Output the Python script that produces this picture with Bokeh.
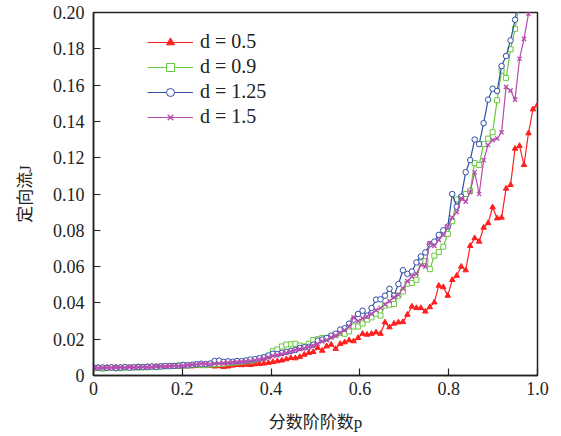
from bokeh.plotting import figure
from bokeh.models import FixedTicker, Legend, LegendItem
from bokeh.embed import file_html
from bokeh.resources import INLINE

# fractional order p (100 evenly spaced samples from 0 to 1)
p = [0.0000, 0.0101, 0.0202, 0.0303, 0.0404, 0.0505, 0.0606, 0.0707, 0.0808, 0.0909,
     0.1010, 0.1111, 0.1212, 0.1313, 0.1414, 0.1515, 0.1616, 0.1717, 0.1818, 0.1919,
     0.2020, 0.2121, 0.2222, 0.2323, 0.2424, 0.2525, 0.2626, 0.2727, 0.2828, 0.2929,
     0.3030, 0.3131, 0.3232, 0.3333, 0.3434, 0.3535, 0.3636, 0.3737, 0.3838, 0.3939,
     0.4040, 0.4141, 0.4242, 0.4343, 0.4444, 0.4545, 0.4646, 0.4747, 0.4848, 0.4949,
     0.5050, 0.5151, 0.5252, 0.5353, 0.5454, 0.5555, 0.5656, 0.5757, 0.5858, 0.5959,
     0.6060, 0.6161, 0.6262, 0.6363, 0.6464, 0.6565, 0.6666, 0.6767, 0.6868, 0.6969,
     0.7070, 0.7171, 0.7272, 0.7373, 0.7474, 0.7575, 0.7676, 0.7777, 0.7878, 0.7979,
     0.8080, 0.8181, 0.8282, 0.8383, 0.8484, 0.8585, 0.8686, 0.8787, 0.8888, 0.8989,
     0.9090, 0.9191, 0.9292, 0.9393, 0.9494, 0.9595, 0.9696, 0.9797, 0.9898, 1.0000]

J_d05 = [0.0042, 0.0043, 0.0041, 0.0044, 0.0043, 0.0045, 0.0044, 0.0046, 0.0045, 0.0046,
         0.0047, 0.0046, 0.0048, 0.0047, 0.0049, 0.0048, 0.0049, 0.0050, 0.0049, 0.0051,
         0.0050, 0.0052, 0.0051, 0.0053, 0.0052, 0.0054, 0.0053, 0.0050, 0.0052, 0.0048,
         0.0050, 0.0055, 0.0058, 0.0057, 0.0060, 0.0058, 0.0062, 0.0064, 0.0066, 0.0070,
         0.0075, 0.0079, 0.0083, 0.0090, 0.0097, 0.0095, 0.0103, 0.0115, 0.0125, 0.0130,
         0.0152, 0.0137, 0.0161, 0.0170, 0.0147, 0.0174, 0.0183, 0.0194, 0.0189, 0.0207,
         0.0230, 0.0225, 0.0230, 0.0238, 0.0230, 0.0293, 0.0266, 0.0286, 0.0293, 0.0295,
         0.0335, 0.0380, 0.0372, 0.0372, 0.0353, 0.0377, 0.0403, 0.0495, 0.0487, 0.0440,
         0.0527, 0.0550, 0.0600, 0.0580, 0.0714, 0.0757, 0.0738, 0.0815, 0.0840, 0.0927,
         0.0866, 0.0870, 0.1030, 0.1050, 0.1250, 0.1265, 0.1160, 0.1335, 0.1467, 0.1490]

J_d09 = [0.0040, 0.0042, 0.0038, 0.0041, 0.0043, 0.0042, 0.0040, 0.0044, 0.0043, 0.0045,
         0.0044, 0.0046, 0.0045, 0.0047, 0.0048, 0.0050, 0.0051, 0.0053, 0.0052, 0.0055,
         0.0056, 0.0055, 0.0058, 0.0060, 0.0059, 0.0057, 0.0060, 0.0062, 0.0063, 0.0065,
         0.0068, 0.0070, 0.0073, 0.0075, 0.0078, 0.0082, 0.0085, 0.0092, 0.0100, 0.0108,
         0.0134, 0.0143, 0.0160, 0.0170, 0.0172, 0.0175, 0.0165, 0.0160, 0.0175, 0.0195,
         0.0200, 0.0207, 0.0205, 0.0215, 0.0224, 0.0235, 0.0230, 0.0243, 0.0270, 0.0270,
         0.0286, 0.0308, 0.0320, 0.0340, 0.0330, 0.0385, 0.0390, 0.0394, 0.0440, 0.0463,
         0.0505, 0.0510, 0.0527, 0.0623, 0.0630, 0.0586, 0.0660, 0.0680, 0.0710, 0.0780,
         0.0850, 0.0970, 0.0980, 0.1000, 0.1018, 0.1170, 0.1160, 0.1275, 0.1305, 0.1340,
         0.1516, 0.1680, 0.1640, 0.1797, 0.1910, 0.2050]

J_d125 = [0.0045, 0.0043, 0.0044, 0.0042, 0.0045, 0.0040, 0.0044, 0.0046, 0.0043, 0.0045,
          0.0047, 0.0046, 0.0048, 0.0050, 0.0047, 0.0050, 0.0052, 0.0051, 0.0053, 0.0054,
          0.0058, 0.0056, 0.0060, 0.0062, 0.0065, 0.0063, 0.0066, 0.0080, 0.0082, 0.0075,
          0.0078, 0.0076, 0.0080, 0.0079, 0.0083, 0.0088, 0.0090, 0.0095, 0.0100, 0.0110,
          0.0120, 0.0118, 0.0125, 0.0130, 0.0135, 0.0140, 0.0152, 0.0155, 0.0158, 0.0170,
          0.0192, 0.0198, 0.0207, 0.0220, 0.0230, 0.0253, 0.0260, 0.0286, 0.0308, 0.0339,
          0.0357, 0.0330, 0.0372, 0.0418, 0.0420, 0.0440, 0.0478, 0.0440, 0.0504, 0.0580,
          0.0560, 0.0573, 0.0623, 0.0656, 0.0678, 0.0723, 0.0738, 0.0775, 0.0800, 0.0820,
          0.1000, 0.0930, 0.0985, 0.1120, 0.1187, 0.1300, 0.1275, 0.1390, 0.1520, 0.1580,
          0.1568, 0.1705, 0.1760, 0.1846, 0.1960, 0.2120]

J_d15 = [0.0043, 0.0041, 0.0043, 0.0042, 0.0044, 0.0043, 0.0045, 0.0044, 0.0046, 0.0045,
         0.0046, 0.0047, 0.0046, 0.0048, 0.0049, 0.0050, 0.0050, 0.0052, 0.0053, 0.0052,
         0.0055, 0.0057, 0.0060, 0.0062, 0.0066, 0.0064, 0.0062, 0.0065, 0.0066, 0.0068,
         0.0070, 0.0072, 0.0074, 0.0076, 0.0078, 0.0080, 0.0084, 0.0088, 0.0093, 0.0100,
         0.0108, 0.0112, 0.0118, 0.0125, 0.0132, 0.0140, 0.0145, 0.0150, 0.0158, 0.0165,
         0.0175, 0.0188, 0.0195, 0.0210, 0.0220, 0.0235, 0.0250, 0.0270, 0.0320, 0.0300,
         0.0315, 0.0325, 0.0340, 0.0360, 0.0372, 0.0392, 0.0410, 0.0430, 0.0445, 0.0480,
         0.0520, 0.0545, 0.0560, 0.0610, 0.0600, 0.0730, 0.0714, 0.0747, 0.0775, 0.0820,
         0.0870, 0.0900, 0.0976, 0.0958, 0.1010, 0.1120, 0.1000, 0.1187, 0.1270, 0.1297,
         0.1306, 0.1340, 0.1590, 0.1570, 0.1520, 0.1745, 0.1855, 0.1993, 0.2100]

labels = ["d = 0.5", "d = 0.9", "d = 1.25", "d = 1.5"]
x_ticks = [0, 0.2, 0.4, 0.6, 0.8, 1.0]
x_tick_labels = ["0", "0.2", "0.4", "0.6", "0.8", "1.0"]
y_ticks = [0, 0.02, 0.04, 0.06, 0.08, 0.10, 0.12, 0.14, 0.16, 0.18, 0.20]
y_tick_labels = ["0", "0.02", "0.04", "0.06", "0.08", "0.10", "0.12", "0.14", "0.16", "0.18", "0.20"]
xlabel = "分数阶阶数p"
ylabel = "定向流J"

SERIF = "Liberation Serif"
MIXED = "Liberation Serif, Noto Sans CJK SC"
INK = "#222222"

fig = figure(width=560, height=434, x_range=(0, 1.0), y_range=(0, 0.2),
             output_backend="svg", toolbar_location=None,
             min_border_left=93, min_border_right=23, min_border_top=12, min_border_bottom=58)
fig.background_fill_color = "white"
fig.border_fill_color = "white"
fig.outline_line_color = INK
fig.outline_line_width = 1.5
fig.xgrid.visible = False
fig.ygrid.visible = False

for ax in (fig.xaxis[0], fig.yaxis[0]):
    ax.axis_line_color = INK
    ax.axis_line_width = 1.5
    ax.major_tick_in = 7
    ax.major_tick_out = 0
    ax.major_tick_line_color = INK
    ax.major_tick_line_width = 1.2
    ax.minor_tick_line_color = None
    ax.major_label_text_font = SERIF
    ax.major_label_text_font_size = "18px"
    ax.major_label_text_color = INK
    ax.axis_label_text_font = MIXED
    ax.axis_label_text_font_style = "normal"
    ax.axis_label_text_font_size = "17px"
    ax.axis_label_text_color = INK

fig.xaxis[0].ticker = FixedTicker(ticks=x_ticks)
fig.xaxis[0].major_label_overrides = {t: s for t, s in zip(x_ticks, x_tick_labels)}
fig.xaxis[0].major_label_standoff = 6
fig.xaxis[0].axis_label = xlabel
fig.xaxis[0].axis_label_standoff = 15
fig.yaxis[0].ticker = FixedTicker(ticks=y_ticks)
fig.yaxis[0].major_label_overrides = {t: s for t, s in zip(y_ticks, y_tick_labels)}
fig.yaxis[0].major_label_standoff = 9
fig.yaxis[0].axis_label = ylabel
fig.yaxis[0].axis_label_standoff = 15

styles = [
    dict(color="#ff1f1f", marker="triangle", fill="#ff1f1f", size=5.5, width=1.0, data=J_d05),
    dict(color="#66c83c", marker="square", fill="white", size=5, width=1.0, data=J_d09),
    dict(color="#2f4fa8", marker="circle", fill="white", size=5.5, width=1.0, data=J_d125),
    dict(color="#b84aae", marker="x", fill=None, size=6, width=1.3, data=J_d15),
]

items = []
for st, lab in zip(styles, labels):
    ys = st["data"]
    xs = p[:len(ys)]
    r1 = fig.line(xs, ys, line_color=st["color"], line_width=1.2)
    r2 = fig.scatter(xs, ys, marker=st["marker"], size=st["size"],
                     line_color=st["color"], fill_color=st["fill"], line_width=st["width"])
    items.append(LegendItem(label=lab, renderers=[r1, r2]))

legend = Legend(items=items, location=(54, 247), border_line_color=None,
                background_fill_alpha=0, padding=0, margin=0,
                glyph_width=46, glyph_height=20, label_height=20, spacing=2,
                label_standoff=7, label_text_font=SERIF, label_text_font_size="20px",
                label_text_color=INK)
fig.add_layout(legend)

open("out.html", "w").write(file_html(fig, INLINE))
